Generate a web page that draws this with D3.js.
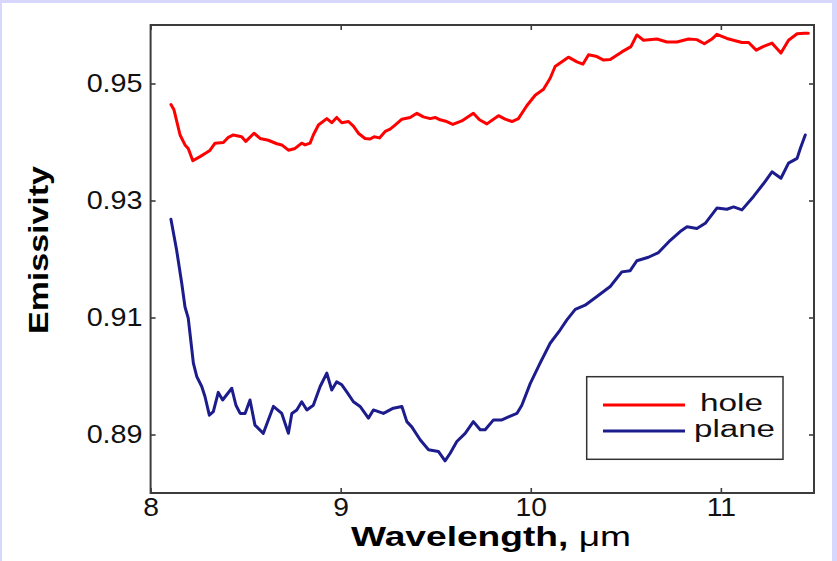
<!DOCTYPE html>
<html>
<head>
<meta charset="utf-8">
<script src="https://cdn.jsdelivr.net/npm/d3@7/dist/d3.min.js"></script>
<style>
  html, body { margin: 0; padding: 0; background: #d7d7fd; }
  svg { display: block; }
  text { font-family: "Liberation Sans", Arial, Helvetica, sans-serif; }
</style>
</head>
<body>
<svg id="chart" width="837" height="561"></svg>
<script>
// ---------- data ----------
const holeWavelength = [8.107,8.123,8.155,8.181,8.198,8.222,8.260,8.295,8.313,8.339,8.383,8.409,8.435,8.479,8.501,8.544,8.576,8.619,8.664,8.690,8.725,8.760,8.795,8.813,8.839,8.856,8.883,8.927,8.953,8.979,9.006,9.041,9.067,9.093,9.128,9.155,9.176,9.204,9.234,9.260,9.286,9.322,9.365,9.401,9.435,9.471,9.497,9.523,9.558,9.590,9.637,9.698,9.730,9.769,9.830,9.865,9.901,9.935,9.979,10.023,10.067,10.102,10.128,10.198,10.243,10.274,10.304,10.348,10.383,10.418,10.479,10.527,10.558,10.593,10.664,10.716,10.769,10.830,10.874,10.913,10.953,10.979,11.032,11.076,11.111,11.146,11.186,11.222,11.269,11.286,11.316,11.356,11.401,11.439,11.460];
const holeEmissivity = [0.9464,0.9455,0.9412,0.9395,0.9389,0.9368,0.9375,0.9382,0.9386,0.9398,0.9399,0.9408,0.9412,0.9409,0.9401,0.9415,0.9406,0.9403,0.9397,0.9395,0.9386,0.9389,0.9398,0.9395,0.9398,0.9412,0.9429,0.9440,0.9433,0.9442,0.9433,0.9435,0.9427,0.9415,0.9406,0.9405,0.9409,0.9407,0.9418,0.9422,0.9429,0.9439,0.9442,0.9449,0.9443,0.9440,0.9442,0.9438,0.9435,0.9430,0.9436,0.9449,0.9438,0.9431,0.9445,0.9439,0.9435,0.9440,0.9462,0.9480,0.9490,0.9509,0.9529,0.9545,0.9537,0.9533,0.9549,0.9546,0.9540,0.9541,0.9554,0.9563,0.9583,0.9574,0.9576,0.9571,0.9571,0.9576,0.9575,0.9568,0.9576,0.9584,0.9577,0.9573,0.9570,0.9570,0.9557,0.9563,0.9569,0.9563,0.9552,0.9574,0.9585,0.9586,0.9586];

const planeWavelength = [8.107,8.137,8.164,8.181,8.198,8.211,8.225,8.243,8.269,8.286,8.309,8.330,8.356,8.379,8.427,8.449,8.471,8.497,8.523,8.549,8.593,8.646,8.690,8.725,8.743,8.769,8.795,8.822,8.856,8.892,8.927,8.953,8.979,9.006,9.032,9.067,9.102,9.146,9.172,9.225,9.277,9.322,9.348,9.374,9.418,9.462,9.514,9.549,9.576,9.611,9.655,9.698,9.734,9.760,9.804,9.848,9.883,9.927,9.953,9.997,10.049,10.102,10.155,10.190,10.234,10.286,10.348,10.418,10.479,10.523,10.558,10.619,10.672,10.734,10.786,10.822,10.874,10.918,10.979,11.032,11.067,11.111,11.172,11.225,11.269,11.316,11.356,11.401,11.418,11.444];
const planeEmissivity = [0.9268,0.9215,0.9158,0.9118,0.9099,0.9062,0.9022,0.8999,0.8982,0.8965,0.8933,0.8939,0.8972,0.8959,0.8979,0.8950,0.8936,0.8936,0.8959,0.8916,0.8902,0.8948,0.8936,0.8902,0.8936,0.8942,0.8956,0.8942,0.8950,0.8982,0.9005,0.8976,0.8990,0.8985,0.8973,0.8956,0.8948,0.8928,0.8942,0.8936,0.8945,0.8948,0.8922,0.8913,0.8891,0.8874,0.8871,0.8855,0.8868,0.8888,0.8902,0.8922,0.8908,0.8908,0.8925,0.8925,0.8930,0.8936,0.8950,0.8987,0.9022,0.9056,0.9079,0.9096,0.9114,0.9121,0.9136,0.9153,0.9178,0.9180,0.9197,0.9203,0.9211,0.9232,0.9247,0.9255,0.9252,0.9261,0.9287,0.9285,0.9289,0.9284,0.9307,0.9329,0.9349,0.9338,0.9364,0.9372,0.9389,0.9412];

const xTicks = [8, 9, 10, 11];
const yTicks = [0.89, 0.91, 0.93, 0.95];
const seriesNames = ["hole", "plane"];
const seriesColors = ["#ff0000", "#1c1c8c"];
const xTitle = "Wavelength,";
const xUnit = " μm";
const yTitle = "Emissivity";

// ---------- layout ----------
const svg = d3.select("#chart");
const W = 837, H = 561;
const plot = { left: 150.6, right: 814, top: 25, bottom: 493 };

svg.append("rect").attr("x", 0).attr("y", 0).attr("width", W).attr("height", H).attr("fill", "#d7d7fd");
svg.append("rect").attr("x", 2).attr("y", 3).attr("width", 830).attr("height", 558).attr("fill", "#ffffff");

const x = d3.scaleLinear().domain([8, 11.49]).range([plot.left, plot.right]);
const y = d3.scaleLinear().domain([0.88, 0.96]).range([plot.bottom, plot.top]);

function stretch(sel, factor) {
  sel.each(function () {
    const n = this.getComputedTextLength();
    d3.select(this).attr("textLength", n * factor).attr("lengthAdjust", "spacingAndGlyphs");
  });
}

// axes
const axisColor = "#3c3c3c";
const gB = svg.append("g").attr("transform", `translate(0,${plot.bottom})`)
  .call(d3.axisBottom(x).tickValues(xTicks).tickSize(-5).tickPadding(5).tickFormat(d3.format("d")));
const gL = svg.append("g").attr("transform", `translate(${plot.left},0)`)
  .call(d3.axisLeft(y).tickValues(yTicks).tickSize(-5).tickPadding(8).tickFormat(d3.format(".2f")));
const gT = svg.append("g").attr("transform", `translate(0,${plot.top})`)
  .call(d3.axisTop(x).tickValues(xTicks).tickSize(-5).tickFormat(""));
const gR = svg.append("g").attr("transform", `translate(${plot.right},0)`)
  .call(d3.axisRight(y).tickValues(yTicks).tickSize(-5).tickFormat(""));

[gB, gL, gT, gR].forEach(g => {
  g.select(".domain").remove();
  g.selectAll(".tick line").attr("stroke", axisColor).attr("stroke-width", 1.6);
  g.selectAll(".tick text").attr("fill", "#111").attr("font-size", 25)
    .attr("font-family", '"Liberation Sans", Arial, sans-serif');
});
stretch(gB.selectAll(".tick text"), 1.13);
stretch(gL.selectAll(".tick text"), 1.15);

// lines
const line = d3.line().x(d => x(d[0])).y(d => y(d[1]));
const holeData = holeWavelength.map((w, i) => [w, holeEmissivity[i]]);
const planeData = planeWavelength.map((w, i) => [w, planeEmissivity[i]]);
const pg = svg.append("g");
[holeData, planeData].forEach((data, i) => {
  pg.append("path").datum(data).attr("d", line)
    .attr("fill", "none").attr("stroke", seriesColors[i]).attr("stroke-width", 3)
    .attr("stroke-linejoin", "round").attr("stroke-linecap", "round");
});

// frame
svg.append("rect").attr("x", plot.left).attr("y", plot.top)
  .attr("width", plot.right - plot.left).attr("height", plot.bottom - plot.top)
  .attr("fill", "none").attr("stroke", axisColor).attr("stroke-width", 2);

// axis titles
const xt = svg.append("text").attr("x", 491).attr("y", 546).attr("text-anchor", "middle")
  .attr("font-size", 28).attr("fill", "#000");
xt.append("tspan").attr("font-weight", "bold").text(xTitle);
xt.append("tspan").attr("font-weight", "normal").text(xUnit);
xt.attr("textLength", 280).attr("lengthAdjust", "spacingAndGlyphs");

svg.append("text").attr("transform", "translate(48,250) rotate(-90)")
  .attr("text-anchor", "middle").attr("font-size", 27).attr("font-weight", "bold").attr("fill", "#000")
  .attr("textLength", 168).attr("lengthAdjust", "spacingAndGlyphs")
  .text(yTitle);

// legend
const lg = svg.append("g");
lg.append("rect").attr("x", 586.7).attr("y", 376.7).attr("width", 196.3).attr("height", 82.6)
  .attr("fill", "#fff").attr("stroke", "#333").attr("stroke-width", 1.5);
const legendRows = [
  { y: 405, tx: 700, ty: 411, len: 63 },
  { y: 431, tx: 694, ty: 437, len: 81 }
];
seriesNames.forEach((name, i) => {
  const r = legendRows[i];
  lg.append("line").attr("x1", 603).attr("x2", 685).attr("y1", r.y).attr("y2", r.y)
    .attr("stroke", seriesColors[i]).attr("stroke-width", 3);
  lg.append("text").attr("x", r.tx).attr("y", r.ty).attr("font-size", 23).attr("fill", "#111")
    .attr("textLength", r.len).attr("lengthAdjust", "spacingAndGlyphs")
    .text(name);
});
</script>
</body>
</html>
